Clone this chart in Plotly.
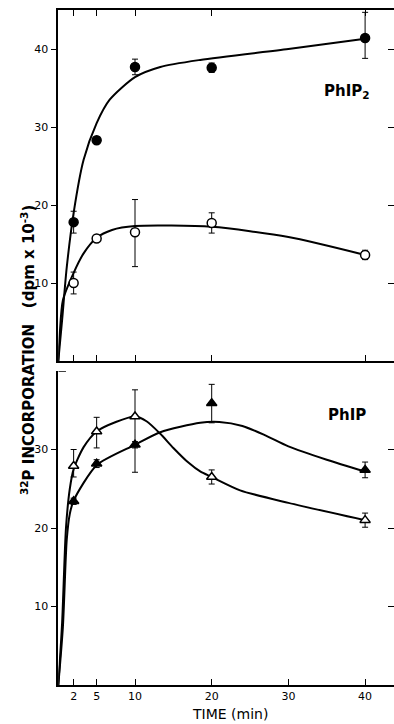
import plotly.graph_objects as go

# ---------------- data ----------------
time_pts = [2, 5, 10, 20, 40]

phip2_filled = [17.8, 28.3, 37.7, 37.6, 41.4]
phip2_filled_ep = [1.4, 0.4, 1.0, 0.6, 3.3]
phip2_filled_em = [1.4, 0.4, 1.0, 0.6, 2.6]
phip2_open = [10.0, 15.7, 16.5, 17.7, 13.6]
phip2_open_ep = [1.4, 0.3, 4.2, 1.3, 0.6]
phip2_open_em = [1.4, 0.3, 4.4, 1.3, 0.6]

phip_filled = [23.4, 28.2, 30.6, 35.9, 27.4]
phip_filled_ep = [0.4, 0.5, 0.4, 2.4, 1.0]
phip_filled_em = [0.4, 0.5, 0.4, 2.5, 1.0]
phip_open = [27.9, 32.3, 34.2, 26.5, 21.0]
phip_open_ep = [2.1, 1.8, 3.4, 0.9, 0.9]
phip_open_em = [1.4, 2.1, 7.1, 0.9, 0.9]

# fitted curves
phip2_filled_fit_t = [0, 0.5, 1.1, 2, 3.3, 5, 6.7, 10, 13.3, 18.5, 30, 40]
phip2_filled_fit = [0, 5.3, 12.0, 19.0, 25.8, 30.5, 33.5, 36.4, 37.7, 38.6, 40.0, 41.3]
phip2_open_fit_t = [0, 0.2, 0.6, 2, 3.3, 5, 7, 10, 20, 30, 40]
phip2_open_fit = [0, 3.6, 7.8, 11.3, 13.8, 15.8, 16.8, 17.3, 17.2, 15.9, 13.6]

phip_filled_fit_t = [0, 0.6, 1.1, 1.5, 2, 5, 10, 13.3, 18.5, 21, 24, 27, 30, 35, 40]
phip_filled_fit = [0, 7.4, 18.5, 21.8, 23.5, 28.0, 30.6, 32.2, 33.4, 33.5, 33.0, 31.8, 30.4, 28.7, 27.2]
phip_open_fit_t = [0, 0.5, 1, 1.5, 2, 3.3, 5, 7.5, 10, 11.5, 13.3, 15, 17, 18.5, 20, 23.7, 30, 40]
phip_open_fit = [0, 8, 20, 25, 27.5, 30.3, 32.3, 33.5, 34.2, 33.6, 32.0, 30.2, 28.3, 27.2, 26.5, 24.8, 23.2, 21.0]

top_xticks = [2, 5, 10, 20, 40]
bottom_xticks = [2, 5, 10, 20, 30, 40]
bottom_xticklabels = ["2", "5", "10", "20", "30", "40"]
top_yticks = [10, 20, 30, 40]
bottom_yticks = [10, 20, 30]
right_yticks = [10, 20, 30, 40]

# ---------------- figure ----------------
W, H = 394, 724
fig = go.Figure()
BLACK = "black"
FONT = "DejaVu Sans"


def curve(x, y, xa, ya):
    fig.add_trace(go.Scatter(x=x, y=y, mode="lines", xaxis=xa, yaxis=ya,
                             line=dict(color=BLACK, width=2, shape="spline", smoothing=0.7),
                             hoverinfo="skip", showlegend=False))


def points(x, y, ep, em, symbol, filled, xa, ya):
    fig.add_trace(go.Scatter(x=x, y=y, mode="markers", xaxis=xa, yaxis=ya,
                             marker=dict(symbol=symbol, size=9, color=BLACK if filled else "white",
                                         line=dict(color=BLACK, width=1.5)),
                             error_y=dict(type="data", array=ep, arrayminus=em, symmetric=False,
                                          color=BLACK, thickness=1, width=3),
                             showlegend=False))


curve(phip2_filled_fit_t, phip2_filled_fit, "x", "y")
curve(phip2_open_fit_t, phip2_open_fit, "x", "y")
points(time_pts, phip2_filled, phip2_filled_ep, phip2_filled_em, "circle", True, "x", "y")
points(time_pts, phip2_open, phip2_open_ep, phip2_open_em, "circle", False, "x", "y")

curve(phip_filled_fit_t, phip_filled_fit, "x2", "y2")
curve(phip_open_fit_t, phip_open_fit, "x2", "y2")
points(time_pts, phip_filled, phip_filled_ep, phip_filled_em, "triangle-up", True, "x2", "y2")
points(time_pts, phip_open, phip_open_ep, phip_open_em, "triangle-up", False, "x2", "y2")

# invisible traces to anchor right-side tick axes
fig.add_trace(go.Scatter(x=time_pts, y=phip2_open, mode="markers", xaxis="x", yaxis="y3",
                         marker=dict(opacity=0), hoverinfo="skip", showlegend=False))
fig.add_trace(go.Scatter(x=time_pts, y=phip_open, mode="markers", xaxis="x2", yaxis="y4",
                         marker=dict(opacity=0), hoverinfo="skip", showlegend=False))

# geometry (pixels -> paper)
x_left = 58.3
x_dom = [x_left / W, 1.0]
xmax = (W - x_left) / 7.67
top_dom = [(H - 361) / H, (H - 10) / H]
bot_dom = [(H - 685) / H, (H - 371) / H]

tickfont = dict(family="DejaVu Sans", size=11, color=BLACK)
common = dict(showgrid=False, zeroline=False, automargin=False, tickcolor=BLACK,
              tickwidth=1.2, ticklen=6)

fig.update_layout(
    width=W, height=H,
    margin=dict(l=0, r=0, t=0, b=0, pad=0),
    paper_bgcolor="white", plot_bgcolor="white",
    xaxis=dict(domain=x_dom, range=[0, xmax], anchor="y",
               showline=True, linecolor=BLACK, linewidth=1.5, mirror="ticks",
               ticks="inside", tickvals=top_xticks, showticklabels=False, **common),
    yaxis=dict(domain=top_dom, range=[0, 45], anchor="x",
               showline=True, linecolor=BLACK, linewidth=1.5,
               ticks="outside", tickvals=top_yticks, ticktext=[str(v) for v in top_yticks],
               tickfont=tickfont, **common),
    yaxis3=dict(overlaying="y", side="right", anchor="x", range=[0, 45],
                showline=False, ticks="inside", tickvals=right_yticks, showticklabels=False, **common),
    xaxis2=dict(domain=x_dom, range=[0, xmax], anchor="y2",
                showline=True, linecolor=BLACK, linewidth=1.5,
                ticks="inside", tickvals=bottom_xticks, ticktext=bottom_xticklabels,
                tickfont=tickfont, **common),
    yaxis2=dict(domain=bot_dom, range=[0, 40], anchor="x2",
                showline=True, linecolor=BLACK, linewidth=1.5,
                ticks="outside", tickvals=bottom_yticks, ticktext=[str(v) for v in bottom_yticks],
                tickfont=tickfont, **common),
    yaxis4=dict(overlaying="y2", side="right", anchor="x2", range=[0, 40],
                showline=False, ticks="inside", tickvals=right_yticks, showticklabels=False, **common),
    annotations=[
        dict(text="<b>PhIP<sub>2</sub></b>", x=347 / W, y=(H - 91) / H, xref="paper", yref="paper",
             xanchor="center", yanchor="middle",
             showarrow=False, font=dict(family=FONT, size=15, color=BLACK)),
        dict(text="<b>PhIP</b>", x=347 / W, y=(H - 415) / H, xref="paper", yref="paper",
             xanchor="center", yanchor="middle",
             showarrow=False, font=dict(family=FONT, size=15, color=BLACK)),
        dict(text="<b><sup>32</sup>P INCORPORATION   (dpm x 10<sup>-3</sup>)</b>", x=28 / W, y=(H - 350) / H,
             xref="paper", yref="paper", textangle=-90, showarrow=False,
             xanchor="center", yanchor="middle",
             font=dict(family=FONT, size=15, color=BLACK)),
        dict(text="TIME (min)", x=230 / W, y=(H - 714) / H, xref="paper", yref="paper",
             xanchor="center", yanchor="middle",
             showarrow=False, font=dict(family=FONT, size=14, color=BLACK)),
    ],
    shapes=[
        dict(type="line", xref="x2", yref="y2", x0=0, x1=1.0, y0=40, y1=40,
             line=dict(color=BLACK, width=1.5)),
    ],
)

fig.write_html("out.html", config={"displayModeBar": False},
               post_script="document.body.style.margin='0px';document.body.style.overflow='hidden';")
